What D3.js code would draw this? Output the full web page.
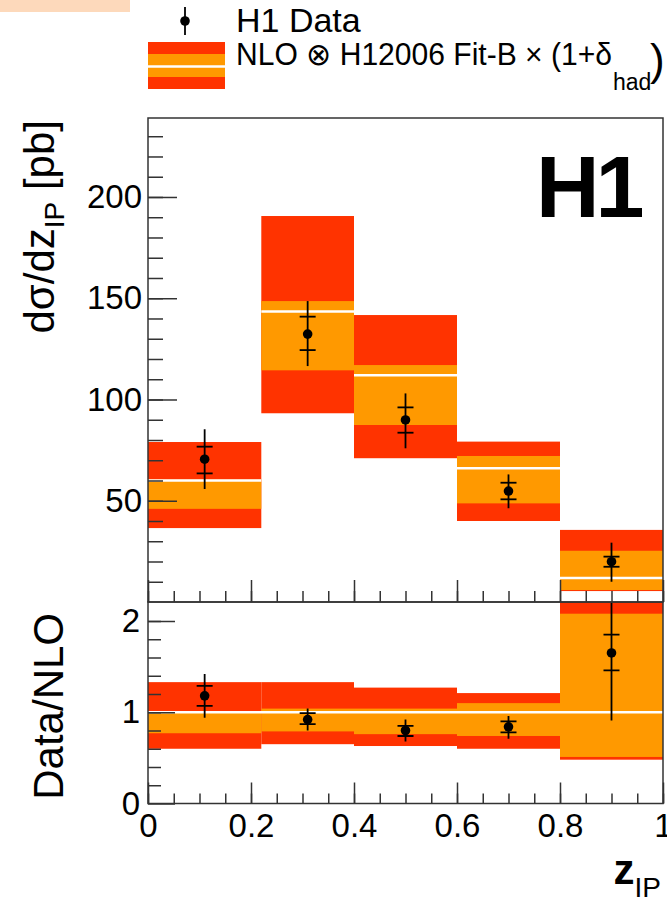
<!DOCTYPE html>
<html>
<head>
<meta charset="utf-8">
<script src="https://cdn.jsdelivr.net/npm/d3@7"></script>
<style>
  body { margin: 0; background: #fff; }
  svg text { font-family: "Liberation Sans", Arial, Helvetica, sans-serif; }
</style>
</head>
<body>
<svg id="chart"></svg>
<script>
// bins of z_IP
let binLow = [0, 0.22, 0.4, 0.6, 0.8]
let binHigh = [0.22, 0.4, 0.6, 0.8, 1.0]
let binCenter = [0.11, 0.31, 0.5, 0.7, 0.9]

// NLO prediction, dsigma/dz_IP [pb]
let nloCentral = [60, 143.4, 112, 66, 11.8]
let nloInnerUp = [60.5, 148.6, 117, 72.1, 25.3]
let nloInnerDown = [46, 114.4, 87.4, 48.7, 5.9]
let nloOuterUp = [79, 190.6, 141.7, 79.2, 35.6]
let nloOuterDown = [36.5, 93.2, 71, 40, 5.4]

// H1 data
let h1Data = [70.5, 132.3, 89.9, 54.8, 19.9]
let h1StatUp = [76.7, 140.9, 96.1, 58.9, 22.4]
let h1StatDown = [63.5, 124.4, 83.6, 50.7, 17.4]
let h1TotUp = [85.3, 148.6, 103, 63, 29.3]
let h1TotDown = [55.8, 116.5, 75.9, 46.3, 10]

// ratio Data/NLO
let ratioCentral = [1, 1, 1, 1, 1]
let ratioInnerUp = [1.01, 1.04, 1.04, 1.10, 2.08]
let ratioInnerDown = [0.77, 0.79, 0.76, 0.74, 0.51]
let ratioOuterUp = [1.33, 1.33, 1.27, 1.21, 3.1]
let ratioOuterDown = [0.6, 0.65, 0.63, 0.60, 0.48]
let ratioData = [1.18, 0.92, 0.80, 0.84, 1.65]
let ratioStatUp = [1.29, 0.99, 0.85, 0.90, 1.85]
let ratioStatDown = [1.07, 0.87, 0.74, 0.78, 1.46]
let ratioTotUp = [1.42, 1.04, 0.92, 0.96, 2.57]
let ratioTotDown = [0.94, 0.80, 0.68, 0.71, 0.91]

// ticks
let xMajorTicks = [0, 0.2, 0.4, 0.6, 0.8, 1]
let xTickLabels = ["0", "0.2", "0.4", "0.6", "0.8", "1"]
let xMinorTicks = d3.range(0, 1.0001, 0.05)
let topMajorTicks = [50, 100, 150, 200]
let topMinorTicks = d3.range(10, 240, 10)
let botMajorTicks = [0, 1, 2]
let botMinorTicks = d3.range(0.2, 2.2, 0.2)

const red = "#ff3300"
const orange = "#ff9900"
const frameColor = "#333"

let width = 667, height = 902
let svg = d3.select("#chart").attr("width", width).attr("height", height)

// peach strip at the top left corner
svg.append("rect").attr("x", 0).attr("y", 0).attr("width", 130).attr("height", 12).attr("fill", "#fdd9bb")

//比例尺
let x = d3.scaleLinear().domain([0, 1]).range([148, 663])
let yTop = d3.scaleLinear().domain([0, 239]).range([602, 118])
let yBot = d3.scaleLinear().domain([0, 2.2]).range([803.5, 602.75])

function makeBins(c, iu, id, ou, od, d, su, sd, tu, td) {
  return binLow.map((lo, i) => ({
    lo: lo, hi: binHigh[i], xc: binCenter[i],
    c: c[i], iu: iu[i], id: id[i], ou: ou[i], od: od[i],
    d: d[i], su: su[i], sd: sd[i], tu: tu[i], td: td[i]
  }))
}

let topBins = makeBins(nloCentral, nloInnerUp, nloInnerDown, nloOuterUp, nloOuterDown,
  h1Data, h1StatUp, h1StatDown, h1TotUp, h1TotDown)
let botBins = makeBins(ratioCentral, ratioInnerUp, ratioInnerDown, ratioOuterUp, ratioOuterDown,
  ratioData, ratioStatUp, ratioStatDown, ratioTotUp, ratioTotDown)

let defs = svg.append("defs")
defs.append("clipPath").attr("id", "clipTop").append("rect")
  .attr("x", 148).attr("y", 118).attr("width", 515).attr("height", 484)
defs.append("clipPath").attr("id", "clipBot").append("rect")
  .attr("x", 148).attr("y", 602).attr("width", 515).attr("height", 201.5)

function drawPanel(bins, y, clipId, fullLine) {
  let g = svg.append("g").attr("clip-path", "url(#" + clipId + ")")
  //外层误差带
  g.selectAll(".outer").data(bins).enter().append("rect")
    .attr("x", d => x(d.lo)).attr("width", d => x(d.hi) - x(d.lo))
    .attr("y", d => y(d.ou)).attr("height", d => y(d.od) - y(d.ou))
    .attr("fill", red)
  //内层误差带
  g.selectAll(".inner").data(bins).enter().append("rect")
    .attr("x", d => x(d.lo)).attr("width", d => x(d.hi) - x(d.lo))
    .attr("y", d => y(d.iu)).attr("height", d => y(d.id) - y(d.iu))
    .attr("fill", orange)
  //中心值
  if (fullLine) {
    g.append("line").attr("x1", x(0)).attr("x2", x(1))
      .attr("y1", y(1)).attr("y2", y(1))
      .attr("stroke", "#fff").attr("stroke-width", 2.5)
  } else {
    g.selectAll(".central").data(bins).enter().append("line")
      .attr("x1", d => x(d.lo)).attr("x2", d => x(d.hi))
      .attr("y1", d => y(d.c)).attr("y2", d => y(d.c))
      .attr("stroke", "#fff").attr("stroke-width", 2.5)
  }
  //数据点
  let pts = g.selectAll(".pt").data(bins).enter().append("g")
  pts.append("line")
    .attr("x1", d => x(d.xc)).attr("x2", d => x(d.xc))
    .attr("y1", d => y(d.tu)).attr("y2", d => y(d.td))
    .attr("stroke", "#000").attr("stroke-width", 1.8)
  pts.append("line")
    .attr("x1", d => x(d.xc) - 8).attr("x2", d => x(d.xc) + 8)
    .attr("y1", d => y(d.su)).attr("y2", d => y(d.su))
    .attr("stroke", "#000").attr("stroke-width", 1.8)
  pts.append("line")
    .attr("x1", d => x(d.xc) - 8).attr("x2", d => x(d.xc) + 8)
    .attr("y1", d => y(d.sd)).attr("y2", d => y(d.sd))
    .attr("stroke", "#000").attr("stroke-width", 1.8)
  pts.append("circle")
    .attr("cx", d => x(d.xc)).attr("cy", d => y(d.d)).attr("r", 4.8)
    .attr("fill", "#000")
}

drawPanel(topBins, yTop, "clipTop", false)
drawPanel(botBins, yBot, "clipBot", true)

function styleAxis(g, size) {
  g.select(".domain").remove()
  g.selectAll("line").attr("stroke", frameColor).attr("stroke-width", 1.5)
  g.selectAll("text").attr("font-size", size).attr("fill", "#000")
}

//左侧刻度
svg.append("g").attr("transform", "translate(148,0)")
  .call(d3.axisLeft(yTop).tickValues(topMinorTicks).tickSize(-15).tickFormat(""))
  .call(g => styleAxis(g, 0))
svg.append("g").attr("transform", "translate(148,0)")
  .call(d3.axisLeft(yTop).tickValues(topMajorTicks).tickSize(-29).tickPadding(6).tickFormat(d3.format("d")))
  .call(g => styleAxis(g, 33))
svg.append("g").attr("transform", "translate(148,0)")
  .call(d3.axisLeft(yBot).tickValues(botMinorTicks).tickSize(-13).tickFormat(""))
  .call(g => styleAxis(g, 0))
svg.append("g").attr("transform", "translate(148,0)")
  .call(d3.axisLeft(yBot).tickValues(botMajorTicks).tickSize(-27).tickPadding(8).tickFormat(d3.format("d")))
  .call(g => styleAxis(g, 33))

//下侧刻度尺
svg.append("g").attr("transform", "translate(0,602)")
  .call(d3.axisBottom(x).tickValues(xMinorTicks).tickSize(-11).tickFormat(""))
  .call(g => styleAxis(g, 0))
svg.append("g").attr("transform", "translate(0,602)")
  .call(d3.axisBottom(x).tickValues(xMajorTicks).tickSize(-22).tickFormat(""))
  .call(g => styleAxis(g, 0))
svg.append("g").attr("transform", "translate(0,803.5)")
  .call(d3.axisBottom(x).tickValues(xMinorTicks).tickSize(-10).tickFormat(""))
  .call(g => styleAxis(g, 0))
svg.append("g").attr("transform", "translate(0,803.5)")
  .call(d3.axisBottom(x).tickValues(xMajorTicks).tickSize(-21).tickPadding(10)
    .tickFormat((d, i) => xTickLabels[i]))
  .call(g => styleAxis(g, 33))

//边框
svg.append("rect").attr("x", 148).attr("y", 118).attr("width", 515).attr("height", 484)
  .attr("fill", "none").attr("stroke", frameColor).attr("stroke-width", 1.5)
svg.append("rect").attr("x", 148).attr("y", 602).attr("width", 515).attr("height", 201.5)
  .attr("fill", "none").attr("stroke", frameColor).attr("stroke-width", 1.5)

//坐标轴标题
let t1 = svg.append("text").attr("transform", "translate(54,120) rotate(-90)")
  .attr("text-anchor", "end").attr("font-size", 42).attr("fill", "#000")
t1.append("tspan").text("dσ/dz")
t1.append("tspan").attr("font-size", 28).attr("dy", 10).text("IP")
t1.append("tspan").attr("dy", -10).text(" [pb]")

svg.append("text").attr("transform", "translate(63,613) rotate(-90)")
  .attr("text-anchor", "end").attr("font-size", 42).attr("fill", "#000")
  .text("Data/NLO")

let t3 = svg.append("text").attr("x", 661).attr("y", 884)
  .attr("text-anchor", "end").attr("fill", "#000")
t3.append("tspan").attr("font-size", 42).attr("font-weight", "bold").text("z")
t3.append("tspan").attr("font-size", 28).attr("dy", 13).text("IP")

// H1 logo
svg.append("text").attr("x", 536).attr("y", 217).attr("font-size", 88)
  .attr("letter-spacing", -4)
  .attr("font-weight", "bold").attr("fill", "#000").text("H1")

//图例
svg.append("line").attr("x1", 185).attr("x2", 185).attr("y1", 7).attr("y2", 35)
  .attr("stroke", "#000").attr("stroke-width", 1.8)
svg.append("circle").attr("cx", 185).attr("cy", 21).attr("r", 4.8).attr("fill", "#000")
svg.append("text").attr("x", 236).attr("y", 32).attr("font-size", 34).attr("fill", "#000").text("H1 Data")

let legendBands = [[42, 89, red], [54, 77, orange]]
svg.selectAll(".legband").data(legendBands).enter().append("rect")
  .attr("x", 148).attr("width", 77)
  .attr("y", d => d[0]).attr("height", d => d[1] - d[0]).attr("fill", d => d[2])
svg.append("line").attr("x1", 148).attr("x2", 225).attr("y1", 66.5).attr("y2", 66.5)
  .attr("stroke", "#fff").attr("stroke-width", 2.5)

let t4 = svg.append("text").attr("font-size", 31).attr("fill", "#000")
t4.append("tspan").attr("x", 236).attr("y", 65)
  .attr("textLength", 376).attr("lengthAdjust", "spacingAndGlyphs")
  .text("NLO ⊗ H12006 Fit-B × (1+δ")
t4.append("tspan").attr("x", 613).attr("y", 90).attr("font-size", 23).text("had")
t4.append("tspan").attr("x", 650).attr("y", 75).attr("font-size", 44).text(")")
</script>
</body>
</html>
